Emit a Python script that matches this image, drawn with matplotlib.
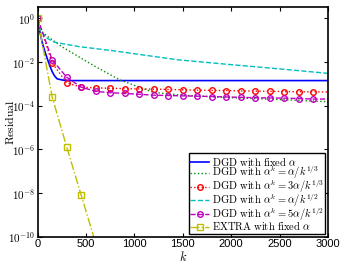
import math

import matplotlib
matplotlib.use("Agg")
import matplotlib.pyplot as plt
from matplotlib.ticker import FixedLocator, FuncFormatter, NullLocator

plt.rcParams["mathtext.fontset"] = "cm"
plt.rcParams["font.family"] = "Liberation Sans"

# --- data ---
k_fixed = [0, 25, 50, 75, 100, 125, 150, 175, 200, 250, 300, 3000]
r_fixed = [1.0, 0.22, 0.07, 0.03, 0.014, 0.0068, 0.0036, 0.0023, 0.0017, 0.0015, 0.0014, 0.0014]

k_cube = [0, 25, 100, 250, 400, 600, 850, 1050, 1200, 1500, 2000, 2500, 3000]
r_cube = [1.0, 0.29, 0.15, 0.05, 0.02, 6e-3, 1.5e-3, 7e-4, 4e-4, 3e-4, 2.3e-4, 1.9e-4, 1.5e-4]

k_mark = list(range(0, 3001, 150))
r_cube3 = [1.0, 9e-3, 1.1e-3, 7e-4, 6.5e-4, 6.2e-4, 6e-4, 5.8e-4, 5.7e-4, 5.5e-4, 5.3e-4,
           5.1e-4, 5e-4, 4.9e-4, 4.7e-4, 4.6e-4, 4.5e-4, 4.4e-4, 4.3e-4, 4.3e-4, 4.2e-4]
r_sqrt5 = [1.0, 1.25e-2, 2e-3, 7e-4, 4.5e-4, 3.9e-4, 3.6e-4, 3.3e-4, 3.0e-4, 2.9e-4, 2.8e-4,
           2.7e-4, 2.6e-4, 2.5e-4, 2.4e-4, 2.3e-4, 2.25e-4, 2.2e-4, 2.1e-4, 2.0e-4, 2.0e-4]

k_sqrt = [0, 35, 100, 175, 430, 770, 1120, 1450, 2000, 2500, 3000]
r_sqrt = [1.0, 0.25, 0.12, 0.08, 0.05, 0.033, 0.02, 0.0125, 7.5e-3, 4.8e-3, 3e-3]

k_extra = [0, 150, 300, 450, 600]
r_extra = [1.0, 2.5e-4, 1.3e-6, 8e-9, 5e-11]

labels = [
    r"$\mathrm{DGD\ with\ fixed}\ \alpha$",
    r"$\mathrm{DGD\ with}\ \alpha^k=\alpha/k^{1/3}$",
    r"$\mathrm{DGD\ with}\ \alpha^k=3\alpha/k^{1/3}$",
    r"$\mathrm{DGD\ with}\ \alpha^k=\alpha/k^{1/2}$",
    r"$\mathrm{DGD\ with}\ \alpha^k=5\alpha/k^{1/2}$",
    r"$\mathrm{EXTRA\ with\ fixed}\ \alpha$",
]

fig = plt.figure(figsize=(3.42, 2.62), dpi=100)
ax = fig.add_axes([0.110, 0.0966, 0.849, 0.877])

ax.plot(k_fixed, r_fixed, "-", color="#0000ff", lw=1.2, label=labels[0])
ax.plot(k_cube, r_cube, ":", color="#009000", lw=1.0, label=labels[1])
ax.plot(k_mark, r_cube3, ":", color="#ff0000", lw=1.0, marker="o", ms=4,
        mfc="none", mew=1.0, markevery=slice(0, 20), label=labels[2])
ax.plot(k_sqrt, r_sqrt, "--", color="#00bfbf", lw=1.0, label=labels[3])
ax.plot(k_mark, r_sqrt5, "--", color="#bf00bf", lw=1.0, marker="o", ms=4,
        mfc="none", mew=1.0, markevery=slice(0, 20), label=labels[4])
ax.plot(k_extra, r_extra, "-.", color="#bfbf00", lw=1.0, marker="s", ms=4,
        mfc="none", mew=1.0, label=labels[5])

ax.set_yscale("log")
ax.set_xlim(0, 3000)
ax.set_ylim(1e-10, 3.3)
ax.set_xticks([0, 500, 1000, 1500, 2000, 2500, 3000])
ax.yaxis.set_major_locator(FixedLocator([1e0, 1e-2, 1e-4, 1e-6, 1e-8, 1e-10]))
ax.yaxis.set_minor_locator(NullLocator())
ax.yaxis.set_major_formatter(FuncFormatter(lambda v, p: r"$\mathsf{10^{%d}}$" % round(math.log10(v))))
ax.tick_params(direction="in", top=True, right=True, labelsize=8, length=3, width=0.8, pad=2)
for s in ax.spines.values():
    s.set_linewidth(1.2)

ax.set_ylabel(r"$\mathrm{Residual}$", fontsize=8.5)
ax.yaxis.set_label_coords(-0.072, 0.5)
ax.set_xlabel(r"$k$", fontsize=9)
ax.xaxis.set_label_coords(0.5, -0.057)

leg = ax.legend(loc="lower right", fontsize=7.6, frameon=True, fancybox=False,
                edgecolor="black", framealpha=1, borderpad=0.15, labelspacing=-0.33,
                handlelength=1.8, handletextpad=0.2, borderaxespad=0.25)
leg.get_frame().set_linewidth(1.0)

fig.savefig("out.png", dpi=100)
